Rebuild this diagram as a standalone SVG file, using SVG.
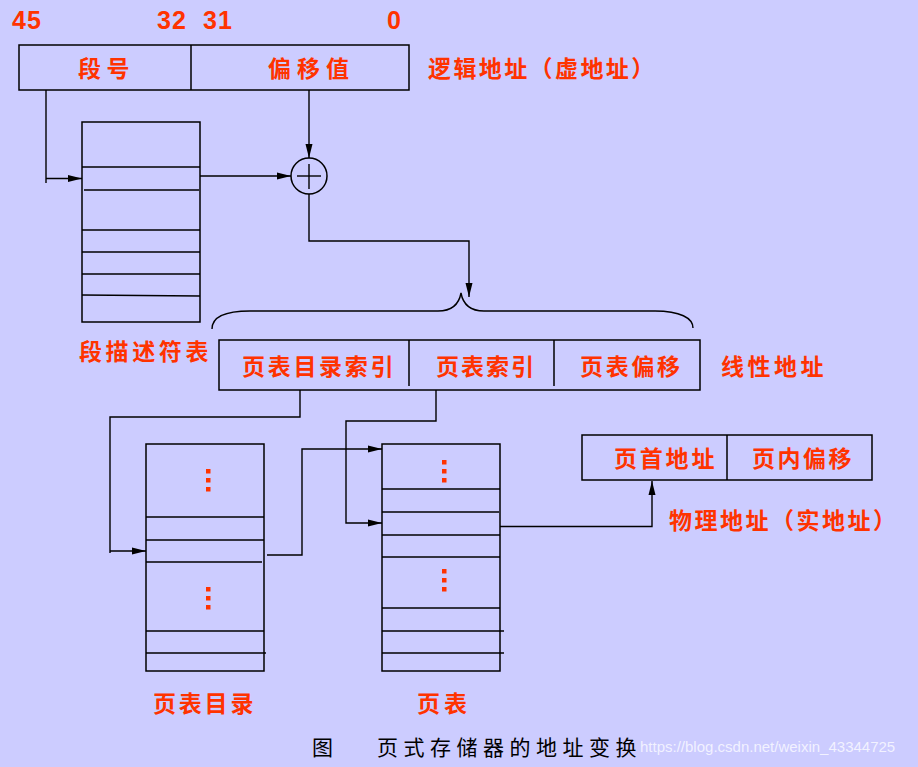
<svg xmlns="http://www.w3.org/2000/svg" width="918" height="767" viewBox="0 0 918 767">
<style>
.bg{fill:#CCCCFF}
.ln{fill:none;stroke:#000;stroke-width:1.4}
.bx{fill:none;stroke:#000;stroke-width:1.5}
.num{font-family:"Liberation Sans",Arial,sans-serif;font-weight:bold;font-size:25px;fill:#FF3300}
.red{font-family:"Noto Sans CJK SC","Noto Sans",sans-serif;font-weight:bold;font-size:23px;fill:#FF3300;dominant-baseline:central}
.cap{font-family:"Noto Sans CJK SC","Noto Sans",sans-serif;font-size:21px;fill:#000;dominant-baseline:central}
.wm{font-family:"Liberation Sans",Arial,sans-serif;font-size:15px;fill:#FFFFFF;fill-opacity:0.75}
.dot{fill:#FF3300}
</style>
<defs>
<marker id="ah" markerUnits="userSpaceOnUse" markerWidth="14" markerHeight="8" refX="14" refY="4" orient="auto">
<path d="M0,0.5 L14,4 L0,7.5 z" fill="#000"/>
</marker>
</defs>
<rect class="bg" x="0" y="0" width="918" height="767"/>

<g id="bit-numbers">
<text class="num" x="12" y="29" letter-spacing="1">45</text>
<text class="num" x="157" y="29" letter-spacing="1">32</text>
<text class="num" x="203" y="29" letter-spacing="1">31</text>
<text class="num" x="387" y="29">0</text>
</g>

<g id="logical-address">
<rect class="bx" x="19" y="45" width="390" height="45"/>
<line class="bx" x1="191" y1="45" x2="191" y2="90"/>
<text class="red" x="78" y="67" letter-spacing="5.5">段号</text>
<text class="red" x="268" y="67" letter-spacing="6">偏移值</text>
<text class="red" x="428" y="67" letter-spacing="2.4">逻辑地址（虚地址）</text>
</g>

<g id="segment-table">
<rect class="bx" x="82" y="122" width="118" height="200"/>
<line class="bx" x1="82" y1="167" x2="200" y2="167"/>
<line class="bx" x1="84" y1="190" x2="199" y2="190"/>
<line class="bx" x1="82" y1="230" x2="200" y2="230"/>
<line class="bx" x1="82" y1="252" x2="200" y2="252"/>
<line class="bx" x1="82" y1="274" x2="200" y2="274"/>
<line class="bx" x1="82" y1="295" x2="200" y2="296"/>
<text class="red" x="79" y="350" letter-spacing="3.6">段描述符表</text>
</g>

<g id="adder">
<circle class="bx" cx="309" cy="176" r="18"/>
<line class="ln" x1="297" y1="176" x2="321" y2="176"/>
<line class="ln" x1="309" y1="164" x2="309" y2="189"/>
</g>

<g id="brace">
<path class="ln" d="M212,329 C212,318 224,311 250,311 L438,311 C452,311 459,304 461,293 C463,304 470,311 484,311 L655,311 C680,311 693,318 693,328"/>
</g>

<g id="linear-address">
<rect class="bx" x="219" y="340" width="481" height="50"/>
<line class="bx" x1="409" y1="340" x2="409" y2="386"/>
<line class="bx" x1="554" y1="340" x2="554" y2="386"/>
<text class="red" x="242" y="365" letter-spacing="2.7">页表目录索引</text>
<text class="red" x="436" y="365" letter-spacing="2">页表索引</text>
<text class="red" x="580" y="365" letter-spacing="2.7">页表偏移</text>
<text class="red" x="721" y="365" letter-spacing="3.5">线性地址</text>
</g>

<g id="page-directory">
<rect class="bx" x="146" y="444" width="118" height="227"/>
<line class="bx" x1="146" y1="517" x2="264" y2="517"/>
<line class="bx" x1="146" y1="540" x2="264" y2="540"/>
<line class="bx" x1="146" y1="562" x2="262" y2="562"/>
<line class="bx" x1="146" y1="631" x2="264" y2="631"/>
<line class="bx" x1="146" y1="653" x2="266" y2="653"/>
<rect class="dot" x="206" y="469" width="4.5" height="4.5"/>
<rect class="dot" x="206" y="478" width="4.5" height="4.5"/>
<rect class="dot" x="206" y="487" width="4.5" height="4.5"/>
<rect class="dot" x="206" y="587" width="4.5" height="4.5"/>
<rect class="dot" x="206" y="596" width="4.5" height="4.5"/>
<rect class="dot" x="206" y="605" width="4.5" height="4.5"/>
<text class="red" x="153" y="702" letter-spacing="2.8">页表目录</text>
</g>

<g id="page-table">
<rect class="bx" x="382" y="444" width="118" height="227"/>
<line class="bx" x1="382" y1="489" x2="500" y2="489"/>
<line class="bx" x1="382" y1="512" x2="499" y2="512"/>
<line class="bx" x1="382" y1="535" x2="500" y2="535"/>
<line class="bx" x1="382" y1="557" x2="500" y2="557"/>
<line class="bx" x1="382" y1="608" x2="500" y2="608"/>
<line class="bx" x1="382" y1="631" x2="504" y2="631"/>
<line class="bx" x1="382" y1="653" x2="504" y2="653"/>
<rect class="dot" x="442" y="460" width="4.5" height="4.5"/>
<rect class="dot" x="442" y="469" width="4.5" height="4.5"/>
<rect class="dot" x="442" y="478" width="4.5" height="4.5"/>
<rect class="dot" x="442" y="569" width="4.5" height="4.5"/>
<rect class="dot" x="442" y="578" width="4.5" height="4.5"/>
<rect class="dot" x="442" y="587" width="4.5" height="4.5"/>
<text class="red" x="417" y="702" letter-spacing="4">页表</text>
</g>

<g id="physical-address">
<rect class="bx" x="582" y="435" width="290" height="45"/>
<line class="bx" x1="727" y1="435" x2="727" y2="480"/>
<text class="red" x="614" y="457" letter-spacing="2.8">页首地址</text>
<text class="red" x="752" y="457" letter-spacing="2.5">页内偏移</text>
<text class="red" x="669" y="519" letter-spacing="2.5">物理地址（实地址）</text>
</g>

<g id="connectors">
<polyline class="ln" points="46,90 46,183"/>
<line class="ln" x1="46" y1="178.5" x2="82" y2="178.5" marker-end="url(#ah)"/>
<line class="ln" x1="200" y1="176" x2="291" y2="176" marker-end="url(#ah)"/>
<line class="ln" x1="309" y1="90" x2="309" y2="158" marker-end="url(#ah)"/>
<polyline class="ln" points="309,194 309,241 469,241 469,297" marker-end="url(#ah)"/>
<polyline class="ln" points="300,390 300,417 110,417 110,553"/>
<line class="ln" x1="110" y1="551" x2="146" y2="551" marker-end="url(#ah)"/>
<polyline class="ln" points="436,390 436,421 346,421 346,523 382,523" marker-end="url(#ah)"/>
<polyline class="ln" points="267,555 302,555 302,449 382,449" marker-end="url(#ah)"/>
<polyline class="ln" points="500,526.5 652,526.5 652,481" marker-end="url(#ah)"/>
</g>

<g id="caption">
<text class="cap" x="312" y="746">图</text>
<text class="cap" x="377" y="746" letter-spacing="5.5">页式存储器的地址变换</text>
<text class="wm" x="640" y="752">https://blog.csdn.net/weixin_43344725</text>
</g>
</svg>
